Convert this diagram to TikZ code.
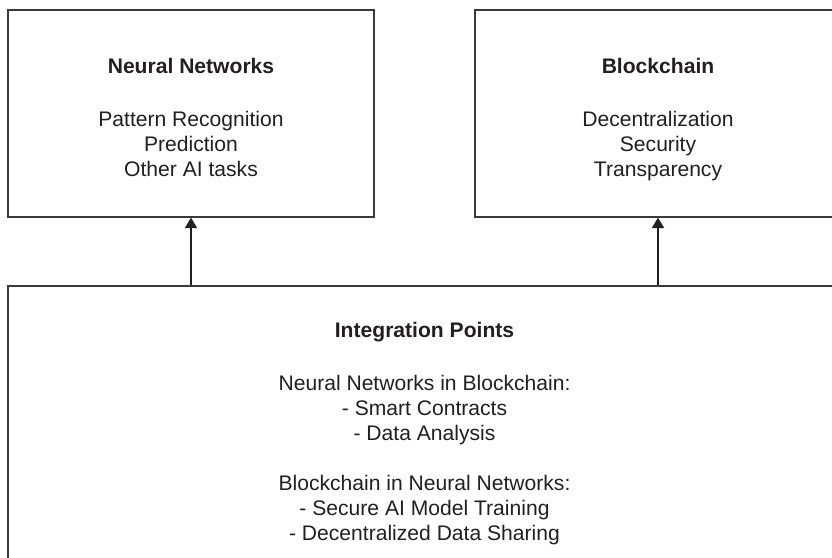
\documentclass[tikz,border=0pt]{standalone}
\usepackage{fontspec}
\setmainfont{Liberation Sans}
\usetikzlibrary{positioning, arrows.meta}
\definecolor{Ink}{HTML}{231F20}
\definecolor{Line}{HTML}{3A3A3A}
\tikzset{
    box/.style={rectangle, draw=Line, line width=0.75pt, text=Ink, align=center, inner sep=0pt, font=\fontsize{12}{14.2}\selectfont},
    arrow/.style={-{Triangle[width=7pt, length=6pt]}, line width=0.75pt, color=Ink},
}
\newcommand{\toppad}[1]{\rule{0pt}{#1}}
\newcommand{\botpad}{\rule[-3pt]{0pt}{3pt}}

\begin{document}
\begin{tikzpicture}
    \useasboundingbox (0,0) rectangle (16.64,-11.14);
    \clip (0,0) rectangle (16.64,-11.14);

    % Top boxes
    \node[box, minimum width=7.32cm, minimum height=4.14cm] (nn) at (3.82,-2.27)
        {\toppad{16pt}\textbf{Neural Networks}\\[0.55cm]Pattern Recognition\\Prediction\\Other AI tasks\botpad};
    \node[box, minimum width=7.32cm, minimum height=4.14cm] (bc) at (13.16,-2.27)
        {\toppad{16pt}\textbf{Blockchain}\\[0.55cm]Decentralization\\Security\\Transparency\botpad};

    % Bottom box
    \node[box, minimum width=16.66cm, minimum height=5.8cm] (integ) at (8.49,-8.62)
        {\toppad{12pt}\textbf{Integration Points}\\[0.55cm]Neural Networks in Blockchain:\\- Smart Contracts\\- Data Analysis\\[0.5cm]Blockchain in Neural Networks:\\- Secure AI Model Training\\- Decentralized Data Sharing\botpad};

    % Arrows
    \draw[arrow] (nn.south |- integ.north) -- (nn.south);
    \draw[arrow] (bc.south |- integ.north) -- (bc.south);
\end{tikzpicture}
\end{document}
